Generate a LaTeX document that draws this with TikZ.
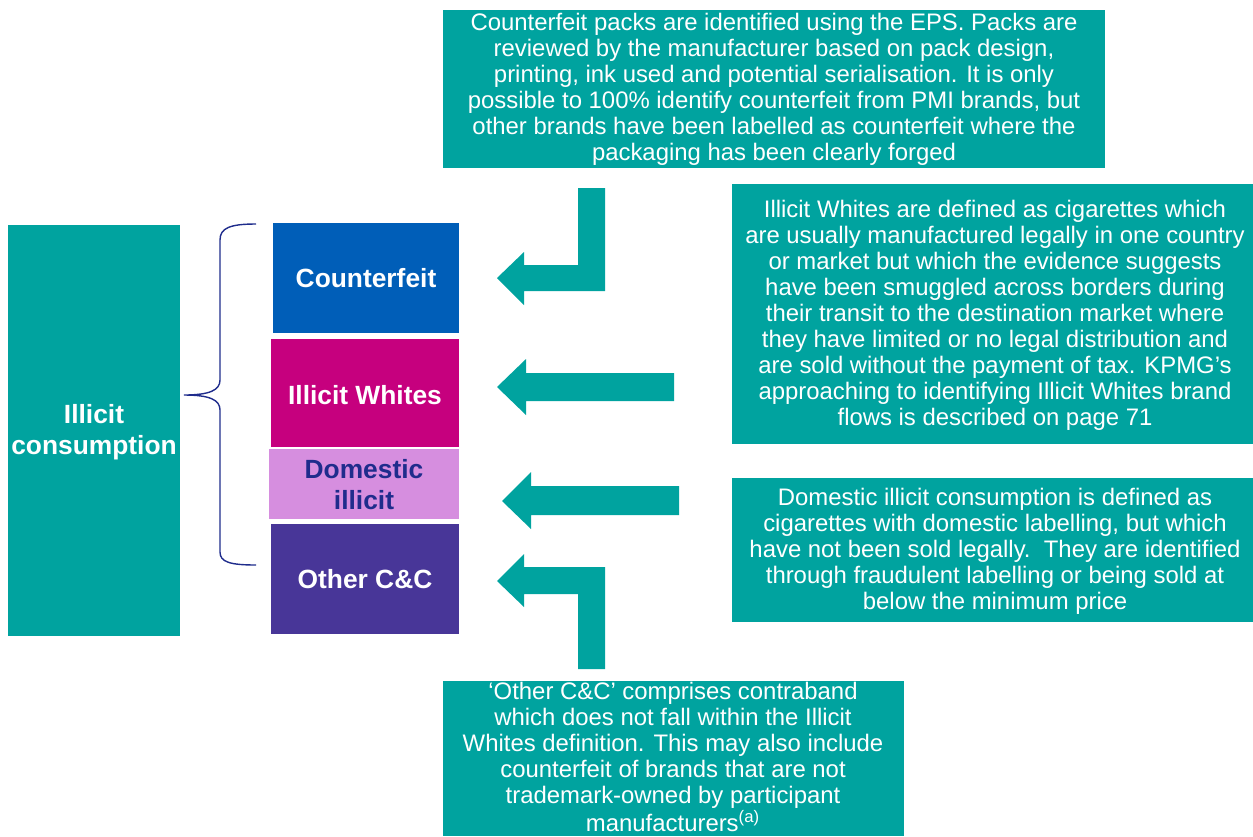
\documentclass[tikz,border=0pt]{standalone}
\usepackage{fontspec}
\setmainfont{Liberation Sans}
\definecolor{teal}{HTML}{00A39F}
\definecolor{cfblue}{HTML}{005EB8}
\definecolor{iwred}{HTML}{C6007E}
\definecolor{dililac}{HTML}{D68EDF}
\definecolor{ocpurple}{HTML}{483698}
\definecolor{navy}{HTML}{1F2C8C}
\tikzset{
  label/.style={text=white,font=\fontsize{15}{17.6}\selectfont\bfseries,align=center},
  note/.style={text=white,font=\fontsize{13.6}{14.8}\selectfont,align=center}
}
\begin{document}
\begin{tikzpicture}[x=0.02cm,y=-0.02cm]
\useasboundingbox (0,0) rectangle (1253,836);
% Categories
\fill[teal] (8,225) rectangle (180,636);
\node[label] (ic) at (94,432) {Illicit\\consumption};
\fill[cfblue] (273,223) rectangle (459,333);
\node[label] (cf) at (366,278) {Counterfeit};
\fill[iwred] (271,339) rectangle (459,447);
\node[label] (iw) at (365,395) {Illicit Whites};
\fill[dililac] (269,449) rectangle (459,519);
\node[label,text=navy] (di) at (364,485) {Domestic\\illicit};
\fill[ocpurple] (271,524) rectangle (459,634);
\node[label] (oc) at (365,579) {Other C\&C};

% Brace
\draw[navy,thick] (256,224) .. controls (230,224) and (220,228) .. (220,240) -- (220,380)
  .. controls (220,390) and (210,395) .. (184,395)
  .. controls (210,395) and (220,400) .. (220,410) -- (220,552)
  .. controls (220,562) and (230,565) .. (256,565);

% Arrows
\fill[teal] (605,188) -- (605,291) -- (524,291) -- (524,305) -- (497,278) -- (524,252) -- (524,265) -- (578,265) -- (578,188) -- cycle;
\fill[teal] (674,373) -- (674,401) -- (526,401) -- (526,415) -- (497,387) -- (526,359) -- (526,373) -- cycle;
\fill[teal] (679,486) -- (679,515) -- (531,515) -- (531,529) -- (502,501) -- (531,472) -- (531,486) -- cycle;
\fill[teal] (605,669) -- (605,567) -- (524,567) -- (524,554) -- (497,581) -- (524,607) -- (524,594) -- (578,594) -- (578,669) -- cycle;

% Notes
\fill[teal] (443,10) rectangle (1105,168);
\node[note] (cfnote) at (774,89) {Counterfeit packs are identified using the EPS. Packs are\\
reviewed by the manufacturer based on pack design,\\
printing, ink used and potential serialisation. It is only\\
possible to 100\% identify counterfeit from PMI brands, but\\
other brands have been labelled as counterfeit where the\\
packaging has been clearly forged};
\fill[teal] (732,184) rectangle (1253,444);
\node[note] (iwnote) at (995,315) {Illicit Whites are defined as cigarettes which\\
are usually manufactured legally in one country\\
or market but which the evidence suggests\\
have been smuggled across borders during\\
their transit to the destination market where\\
they have limited or no legal distribution and\\
are sold without the payment of tax. KPMG’s\\
approaching to identifying Illicit Whites brand\\
flows is described on page 71};
\fill[teal] (732,478) rectangle (1253,622);
\node[note] (dinote) at (995,551) {Domestic illicit consumption is defined as\\
cigarettes with domestic labelling, but which\\
have not been sold legally.\ \ They are identified\\
through fraudulent labelling or being sold at\\
below the minimum price};
\fill[teal] (443,681) rectangle (904,836);
\node[note] (ocnote) at (673,757) {‘Other C\&C’ comprises contraband\\
which does not fall within the Illicit\\
Whites definition. This may also include\\
counterfeit of brands that are not\\
trademark-owned by participant\\
manufacturers\textsuperscript{(a)}};
\end{tikzpicture}
\end{document}
